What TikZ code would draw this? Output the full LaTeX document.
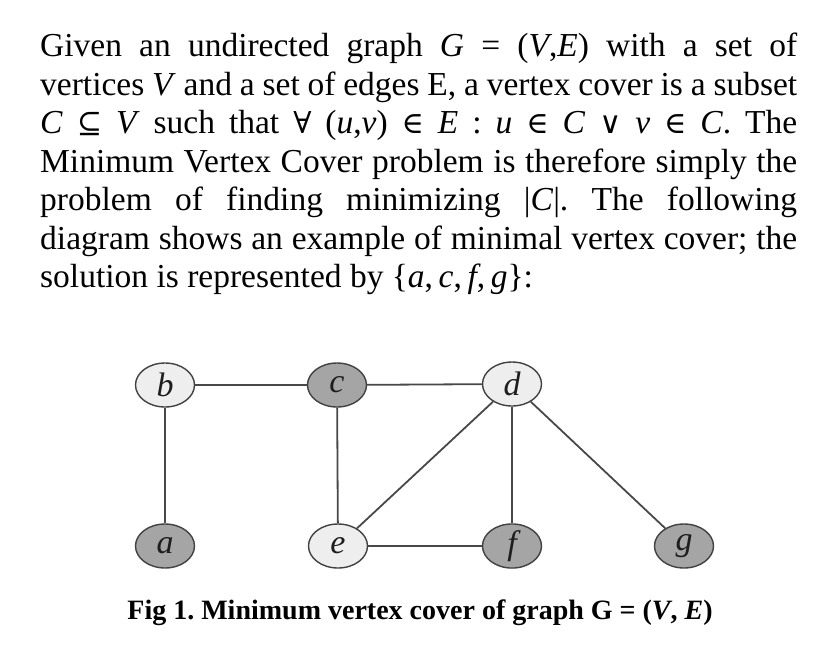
\documentclass[tikz,border=0pt]{standalone}
\usepackage{fontspec}
\setmainfont{Liberation Serif}
\newfontfamily\symf[Scale=0.9]{DejaVu Serif}
\newcommand\sy[1]{{\symf #1}}
\newcommand\mi[1]{\textit{#1}}
\frenchspacing
\usetikzlibrary{shapes.geometric}
\definecolor{edgecol}{RGB}{72,72,72}
\definecolor{rimcol}{RGB}{65,65,65}
\definecolor{coverfill}{RGB}{165,165,165}
\definecolor{lightfill}{RGB}{238,238,238}
\definecolor{labelcol}{RGB}{30,30,30}
\tikzset{
  vtx/.style={ellipse, draw=rimcol, line width=1.4pt, minimum width=59pt, minimum height=44pt,
    inner sep=0pt, font=\fontsize{34}{34}\selectfont\itshape, text=labelcol},
  incover/.style={vtx, fill=coverfill},
  outcover/.style={vtx, fill=lightfill},
  gedge/.style={draw=edgecol, line width=1.8pt},
  para/.style={anchor=north west, text width=757pt, align=justify, inner sep=0pt,
    font=\fontsize{33.5}{38.5}\selectfont},
}
\begin{document}
\begin{tikzpicture}[x=1pt,y=-1pt]
\useasboundingbox (0,0) rectangle (832,662);
\node[para] (text) at (40,33) {Given an undirected graph \mi{G} = (\mi{V},\mi{E}) with a set of\linebreak
vertices \mi{V} and a set of edges E, a vertex cover is a subset\linebreak
\mi{C} \sy{⊆} \mi{V} such that \sy{∀} (\mi{u},\mi{v}) \sy{∈} \mi{E} : \mi{u} \sy{∈} \mi{C} \sy{∨} \mi{v} \sy{∈} \mi{C}. The\linebreak
Minimum Vertex Cover problem is therefore simply the\linebreak
problem of finding minimizing |\mi{C}|. The following\linebreak
diagram shows an example of minimal vertex cover; the\linebreak
solution is represented by \{\mi{a},\,\mi{c},\,\mi{f},\,\mi{g}\}:};

\node[outcover] (b) at (165,385) {b};
\node[incover]  (c) at (337,385) {c};
\node[outcover] (d) at (512,384) {d};
\node[incover]  (a) at (165,546) {a};
\node[outcover] (e) at (338,546) {e};
\node[incover]  (f) at (512,546) {f};
\node[incover]  (g) at (684,546) {g};

\draw[gedge] (b) -- (c);
\draw[gedge] (c) -- (d);
\draw[gedge] (b) -- (a);
\draw[gedge] (c) -- (e);
\draw[gedge] (d) -- (e);
\draw[gedge] (d) -- (f);
\draw[gedge] (d) -- (g);
\draw[gedge] (e) -- (f);

\node[font=\fontsize{28}{28}\selectfont\bfseries, inner sep=0pt] (cap) at (420,613)
  {Fig 1. Minimum vertex cover of graph G = (\textit{V}, \textit{E})};
\end{tikzpicture}
\end{document}
